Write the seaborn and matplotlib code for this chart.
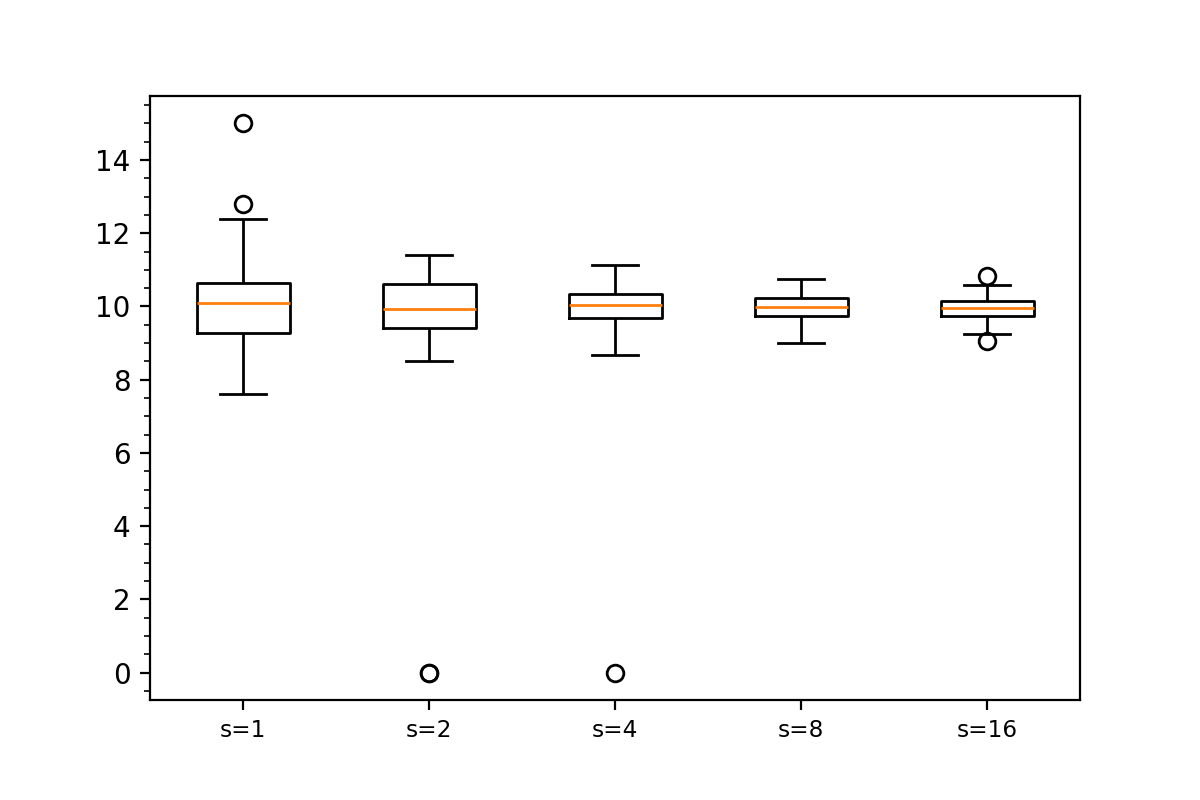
import matplotlib
matplotlib.use("Agg")
import matplotlib.pyplot as plt
from matplotlib.ticker import AutoMinorLocator
import seaborn as sns
import pandas as pd

categories = ["s=1", "s=2", "s=4", "s=8", "s=16"]
s1 = [7.62, 9.28, 9.28, 9.28, 10.10, 10.10, 10.10, 10.65, 10.65, 10.65, 12.40, 12.79, 15.0]
s2 = [0.0, 0.0, 8.51, 9.42, 9.94, 9.94, 9.94, 10.62, 10.62, 10.62, 11.42, 11.42, 11.42]
s4 = [0.0, 8.68, 9.68, 9.68, 10.04, 10.04, 10.04, 10.35, 10.35, 10.35, 11.12, 11.12, 11.12]
s8 = [8.99, 9.73, 9.73, 9.73, 9.98, 9.98, 9.98, 10.24, 10.24, 10.24, 10.76, 10.76, 10.76]
s16 = [9.05, 9.25, 9.73, 9.73, 9.95, 9.95, 9.95, 10.16, 10.16, 10.16, 10.59, 10.59, 10.82]
series = [s1, s2, s4, s8, s16]

rows = []
for cat, vals in zip(categories, series):
    for v in vals:
        rows.append({"group": cat, "value": v})
df = pd.DataFrame(rows)

plt.rcdefaults()
fig = plt.figure(figsize=(6, 4), dpi=200)
ax = fig.add_axes([0.125, 0.125, 0.775, 0.755])

sns.boxplot(
    data=df, x="group", y="value", order=categories, ax=ax,
    width=0.5, fill=False, color="black", linewidth=1.0, whis=1.5,
    medianprops=dict(color="#ff7f0e", linewidth=1.0),
    flierprops=dict(marker="o", markersize=6, markerfacecolor="none",
                    markeredgecolor="black", markeredgewidth=1.0),
    capwidths=0.25,
)

ax.set_xlabel("")
ax.set_ylabel("")
ax.set_xlim(-0.5, 4.5)
ax.set_ylim(-0.75, 15.75)
ax.set_yticks([0, 2, 4, 6, 8, 10, 12, 14])
ax.yaxis.set_minor_locator(AutoMinorLocator())
ax.tick_params(axis="x", labelsize="small")
ax.tick_params(axis="y", labelsize=10)
for sp in ax.spines.values():
    sp.set_visible(True)
    sp.set_color("black")

fig.savefig("out.png", dpi=200)
